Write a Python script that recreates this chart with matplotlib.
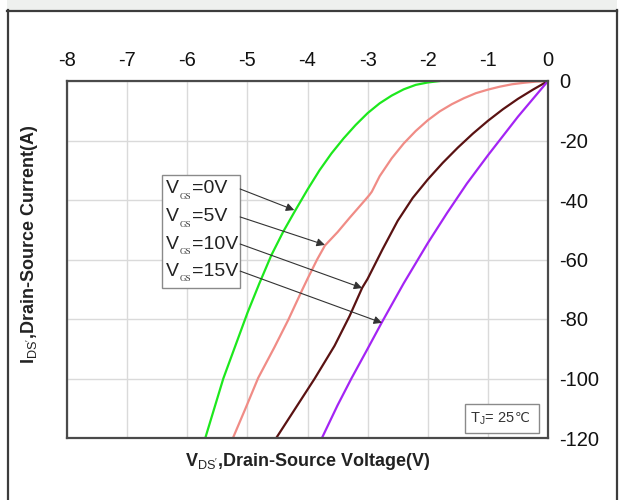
import matplotlib
matplotlib.use("Agg")
import matplotlib.pyplot as plt
from matplotlib.patches import Rectangle
from matplotlib.lines import Line2D

plt.rcParams['font.family'] = ['Liberation Sans', 'DejaVu Sans']
plt.rcParams['axes.unicode_minus'] = False
plt.rcParams['mathtext.fontset'] = 'custom'
plt.rcParams['mathtext.rm'] = 'Liberation Serif'
plt.rcParams['mathtext.sf'] = 'Liberation Sans'
plt.rcParams['mathtext.it'] = 'Liberation Sans:italic'
plt.rcParams['mathtext.bf'] = 'Liberation Sans:bold'

# %% data (V_DS in V, I_DS in A)
vds_0v = [-1.8, -2.0, -2.2, -2.4, -2.6, -2.8, -3.0, -3.2, -3.4, -3.6, -3.8, -4.0, -4.2,
          -4.4, -4.6, -4.8, -5.0, -5.2, -5.4, -5.55, -5.7]
ids_0v = [0, -0.5, -1.3, -2.8, -4.9, -7.5, -10.8, -14.8, -19.3, -24.3, -30, -36.5, -43.4,
          -50.5, -58.5, -68, -78, -89, -100, -110, -120]

vds_5v = [0, -0.2, -0.4, -0.6, -0.8, -1.0, -1.2, -1.4, -1.6, -1.8, -2.0, -2.2, -2.4, -2.6,
          -2.8, -2.93, -2.97, -3.05, -3.3, -3.5, -3.71, -3.84, -4.0, -4.09, -4.32, -4.55,
          -4.82, -5.03, -5.24]
ids_5v = [0, -0.2, -0.6, -1.1, -1.9, -2.9, -4.1, -5.8, -7.8, -10.2, -13.2, -16.8, -21, -26,
          -32, -37.2, -38.3, -40.2, -46, -50.8, -55.3, -60, -66.5, -70.3, -80.3, -89.5,
          -99.8, -110, -120]

vds_10v = [0, -0.25, -0.5, -0.75, -1.0, -1.25, -1.5, -1.75, -2.0, -2.25, -2.5, -2.75,
           -3.0, -3.09, -3.3, -3.55, -3.88, -4.2, -4.52]
ids_10v = [0, -2.9, -6.0, -9.5, -13.4, -17.7, -22.4, -27.5, -33.1, -39.3, -47, -56.5,
           -66.5, -69.5, -79, -89, -100, -110, -120]

vds_15v = [0, -0.5, -1.0, -1.35, -1.68, -2.0, -2.4, -2.76, -3.0, -3.27, -3.5, -3.76]
ids_15v = [0, -12, -25, -34.5, -44.4, -54.5, -68, -81, -90, -100, -109, -120]

curves = [(vds_0v, ids_0v, '#1de81d'),
          (vds_5v, ids_5v, '#f08c86'),
          (vds_10v, ids_10v, '#5a1212'),
          (vds_15v, ids_15v, '#a424f4')]

vgs_labels = ['=0V', '=5V', '=10V', '=15V']
# where each label's arrow points to on its curve
arrow_tips = [(-4.22, -43.4), (-3.71, -55.1), (-3.09, -69.6), (-2.76, -81.3)]
arrow_starts_y = [-36.3, -45.7, -54.8, -63.9]

xticks = [-8, -7, -6, -5, -4, -3, -2, -1, 0]
yticks = [0, -20, -40, -60, -80, -100, -120]

# %%
W, H = 626, 500
fig = plt.figure(figsize=(W / 100, H / 100), dpi=100)

# page frame
fig.patches.append(Rectangle((7 / W, 1 - 10 / H), 610 / W, 10 / H, transform=fig.transFigure,
                             facecolor='#eef0ee', edgecolor='none', zorder=0))
fig.lines.append(Line2D([7 / W, 617 / W], [1 - 10.5 / H] * 2, transform=fig.transFigure, color='#3c3c3c', lw=1.6))
fig.lines.append(Line2D([7.5 / W] * 2, [0, 1 - 10 / H], transform=fig.transFigure, color='#3c3c3c', lw=1.6))
fig.lines.append(Line2D([616.5 / W] * 2, [0, 1 - 10 / H], transform=fig.transFigure, color='#3c3c3c', lw=1.6))

ax = fig.add_axes([67 / W, 62 / H, 481 / W, 357 / H])
for x, y, c in curves:
    ax.plot(x, y, color=c, lw=1.6, zorder=3)

ax.set_xlim(-8, 0)
ax.set_ylim(-120, 0)
ax.set_xticks(xticks)
ax.set_yticks(yticks)
ax.xaxis.tick_top()
ax.yaxis.tick_right()
ax.tick_params(length=0, labelsize=14.5, pad=8, colors='#111111')
ax.grid(True, color='#dadada', lw=1.0)
for s in ax.spines.values():
    s.set_color('#4a4a4a')
    s.set_linewidth(1.6)
    s.set_zorder(5)

# label box with arrows
ax.add_patch(Rectangle((-6.42, -69.6), 1.30, 38.0, facecolor='white', edgecolor='#8a8a8a', lw=1.0, zorder=4))
for i, lab in enumerate(vgs_labels):
    y0 = arrow_starts_y[i]
    ax.text(-6.35, y0, 'V', fontsize=14, ha='left', va='center', color='#222222', zorder=6)
    ax.annotate('GS', xy=(-6.35, y0), xytext=(9.6, -5.5), textcoords='offset points',
                family='Liberation Serif', fontsize=6.5, ha='left', va='center', color='#333333', zorder=6)
    ax.annotate(lab, xy=(-6.35, y0), xytext=(18.5, 0), textcoords='offset points',
                fontsize=14, ha='left', va='center', color='#222222', zorder=6)
    ax.annotate('', xy=arrow_tips[i], xytext=(-5.12, y0),
                arrowprops=dict(arrowstyle='-|>', color='#333333', lw=0.8, mutation_scale=12,
                                shrinkA=0, shrinkB=0), zorder=6)

# junction temperature note
ax.add_patch(Rectangle((-1.38, -118.3), 1.23, 9.7, facecolor='white', edgecolor='#8a8a8a', lw=1.0, zorder=4))
ax.text(-0.55, -113.4, r'T$_{\mathsf{J}}$= 25', fontsize=10.5, ha='right', va='center', color='#333333', zorder=6)
ax.text(-0.55, -113.4, '℃', family='DejaVu Sans', fontsize=9.5, ha='left', va='center', color='#333333', zorder=6)

fig.text(307.5 / W, 1 - 461 / H, r"V$_{\mathsf{DS'}}$,Drain-Source Voltage(V)", fontsize=13,
         fontweight='bold', ha='center', va='center', color='#222222')
fig.text(30 / W, 1 - 244 / H, r"I$_{\mathsf{DS'}}$,Drain-Source Current(A)", fontsize=13,
         fontweight='bold', ha='center', va='center', rotation=90, color='#222222')

fig.savefig("out.png", dpi=100)
